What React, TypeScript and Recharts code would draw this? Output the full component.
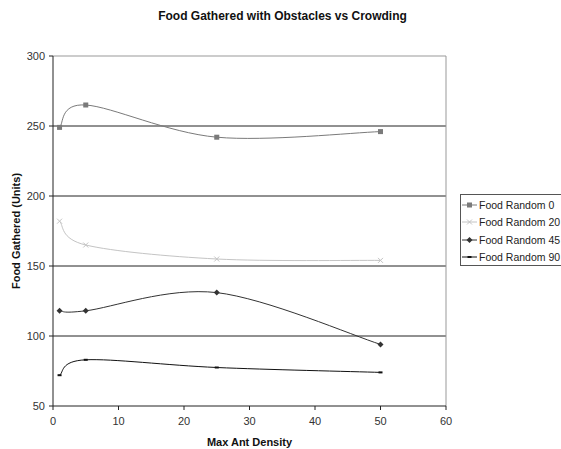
import { CartesianGrid, Line, LineChart, ReferenceLine, XAxis, YAxis } from "recharts";

const density = [1, 5, 25, 50];
const random0 = [249, 265, 242, 246];
const random20 = [182, 165, 155, 154];
const random45 = [118, 118, 131, 94];
const random90 = [72, 83, 77.5, 74];
const xTicks = [0, 10, 20, 30, 40, 50, 60];
const yTicks = [50, 100, 150, 200, 250, 300];

const rows = density.map((d, i) => ({
  x: d,
  r0: random0[i],
  r20: random20[i],
  r45: random45[i],
  r90: random90[i]
}));

const font = "Arial, 'Liberation Sans', sans-serif";

// Excel-style smoothed line: Catmull-Rom through every point
function excelCurve(context: any) {
  let pts: number[][] = [];
  return {
    areaStart() {},
    areaEnd() {},
    lineStart() {
      pts = [];
    },
    point(x: number, y: number) {
      pts.push([+x, +y]);
    },
    lineEnd() {
      if (pts.length === 0) return;
      context.moveTo(pts[0][0], pts[0][1]);
      for (let i = 0; i < pts.length - 1; i++) {
        const p0 = pts[i - 1] || pts[i];
        const p1 = pts[i];
        const p2 = pts[i + 1];
        const p3 = pts[i + 2] || p2;
        context.bezierCurveTo(
          p1[0] + (p2[0] - p0[0]) / 6,
          p1[1] + (p2[1] - p0[1]) / 6,
          p2[0] - (p3[0] - p1[0]) / 6,
          p2[1] - (p3[1] - p1[1]) / 6,
          p2[0],
          p2[1]
        );
      }
    }
  };
}

type Marker = "square" | "cross" | "diamond" | "dash";

function markerShape(kind: Marker, cx: number, cy: number, color: string, key?: string) {
  if (kind === "square") {
    return <rect key={key} x={cx - 2.5} y={cy - 2.5} width={5} height={5} fill={color} />;
  }
  if (kind === "cross") {
    return (
      <path
        key={key}
        d={`M${cx - 2.5},${cy - 2.5}L${cx + 2.5},${cy + 2.5}M${cx - 2.5},${cy + 2.5}L${cx + 2.5},${cy - 2.5}`}
        stroke={color}
        strokeWidth={1}
      />
    );
  }
  if (kind === "diamond") {
    return (
      <path
        key={key}
        d={`M${cx},${cy - 3}L${cx + 3},${cy}L${cx},${cy + 3}L${cx - 3},${cy}Z`}
        fill={color}
      />
    );
  }
  return <rect key={key} x={cx - 2} y={cy - 1} width={4} height={2} fill={color} />;
}

const series: { key: string; name: string; color: string; marker: Marker }[] = [
  { key: "r0", name: "Food Random 0", color: "#7a7a7a", marker: "square" },
  { key: "r20", name: "Food Random 20", color: "#c4c4c4", marker: "cross" },
  { key: "r45", name: "Food Random 45", color: "#333333", marker: "diamond" },
  { key: "r90", name: "Food Random 90", color: "#111111", marker: "dash" }
];

function LegendBox() {
  return (
    <div
      style={{
        position: "absolute",
        left: 460,
        top: 194,
        width: 110,
        height: 72,
        boxSizing: "border-box",
        border: "1px solid #555",
        padding: "1px 0 0 1px",
        background: "#fff",
        fontFamily: font,
        fontSize: 10.5,
        color: "#222"
      }}
    >
      {series.map((s) => (
        <div key={s.key} style={{ display: "flex", alignItems: "center", height: 17.5 }}>
          <svg width={17} height={10} style={{ flex: "none" }}>
            <line x1={0} y1={5} x2={15} y2={5} stroke={s.color} strokeWidth={1} />
            {markerShape(s.marker, 7.5, 5, s.color)}
          </svg>
          <span style={{ whiteSpace: "nowrap" }}>{s.name}</span>
        </div>
      ))}
    </div>
  );
}

export default function App() {
  return (
    <div style={{ position: "absolute", left: 0, top: 0, width: 561, height: 449, background: "#fff", overflow: "hidden" }}>
      <div
        style={{
          position: "absolute",
          left: 0,
          top: 9,
          width: 561,
          textAlign: "center",
          fontFamily: font,
          fontWeight: "bold",
          fontSize: 12,
          color: "#111",
          paddingLeft: 2
        }}
      >
        Food Gathered with Obstacles vs Crowding
      </div>
      <LineChart
        width={561}
        height={449}
        data={rows}
        margin={{ top: 56, right: 115, bottom: 0, left: 0 }}
        style={{ fontFamily: font, position: "absolute", left: 0, top: 0 }}
      >
        <CartesianGrid vertical={false} stroke="#222" horizontalValues={[100, 150, 200, 250]} />
        <ReferenceLine y={300} stroke="#999" />
        <ReferenceLine x={60} stroke="#999" />
        <XAxis
          dataKey="x"
          type="number"
          domain={[0, 60]}
          ticks={xTicks}
          height={43}
          stroke="#222"
          tick={{ fill: "#333", fontSize: 11, dy: 5 }}
          tickSize={4}
          label={{ value: "Max Ant Density", position: "insideBottom", offset: 3, fill: "#111", fontSize: 11, fontWeight: "bold" }}
        />
        <YAxis
          type="number"
          domain={[50, 300]}
          ticks={yTicks}
          width={53}
          stroke="#222"
          tick={{ fill: "#333", fontSize: 11, dx: -2 }}
          tickSize={4}
          label={{ value: "Food Gathered (Units)", angle: -90, position: "insideLeft", offset: 16, fill: "#111", fontSize: 11, fontWeight: "bold", style: { textAnchor: "middle" } }}
        />
        {series.map((s) => (
          <Line
            key={s.key}
            dataKey={s.key}
            name={s.name}
            type={excelCurve as any}
            stroke={s.color}
            strokeWidth={1}
            isAnimationActive={false}
            dot={(p: any) => markerShape(s.marker, p.cx, p.cy, s.color, `${s.key}-${p.index}`)}
            activeDot={false}
          />
        ))}
      </LineChart>
      <LegendBox />
    </div>
  );
}
